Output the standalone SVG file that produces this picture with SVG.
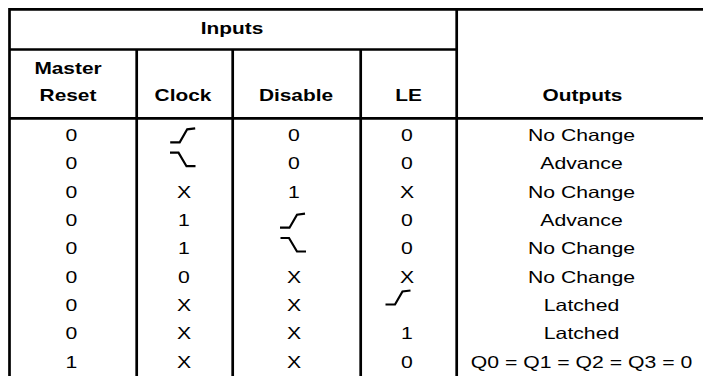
<svg xmlns="http://www.w3.org/2000/svg" width="703" height="376" viewBox="0 0 703 376">
<style>
.t{font-family:"Liberation Sans",Arial,Helvetica,sans-serif;font-size:16.3px;fill:#000;text-anchor:middle}
.b{font-weight:bold}
.ln{stroke:#000;stroke-width:2.7;fill:none}
.edge{stroke:#000;stroke-width:2.2;fill:none;stroke-linejoin:miter}
</style>
<defs>
<path id="rise" class="edge" d="M-12.5 7 H-3 L4.5 -6 L12.5 -7"/>
<path id="fall" class="edge" d="M-12.5 -7 H-4 L4 6.5 H13"/>
</defs>
<rect width="703" height="376" fill="#fff"/>
<g id="grid">
<path class="ln" d="M9.5 9.3 H703 M9.5 49.5 H456.7 M9.5 118.3 H703 M9.5 8 V376 M136.7 49.5 V376 M232.7 49.5 V376 M360.7 49.5 V376 M456.7 8 V376"/>
</g>
<g id="header">
<g transform="translate(232 0) scale(1.28 1)"><text class="t b" y="34.3">Inputs</text></g>
<g transform="translate(68 0) scale(1.28 1)"><text class="t b" y="74">Master</text><text class="t b" y="101.5">Reset</text></g>
<g transform="translate(183 0) scale(1.28 1)"><text class="t b" y="101.5">Clock</text></g>
<g transform="translate(296 0) scale(1.28 1)"><text class="t b" y="101.5">Disable</text></g>
<g transform="translate(408.5 0) scale(1.28 1)"><text class="t b" y="101.5">LE</text></g>
<g transform="translate(582.5 0) scale(1.28 1)"><text class="t b" y="101.5">Outputs</text></g>
</g>
<g id="col-master-reset" transform="translate(71.5 0) scale(1.3 1)">
<text class="t" y="141">0</text><text class="t" y="169.3">0</text><text class="t" y="197.7">0</text><text class="t" y="226">0</text><text class="t" y="254.3">0</text><text class="t" y="282.7">0</text><text class="t" y="311">0</text><text class="t" y="339.3">0</text><text class="t" y="367.7">1</text>
</g>
<g id="col-clock">
<use href="#rise" x="182.7" y="135.3"/>
<use href="#fall" x="182.5" y="159.7"/>
<g transform="translate(184 0) scale(1.3 1)">
<text class="t" y="197.7">X</text><text class="t" y="226">1</text><text class="t" y="254.3">1</text><text class="t" y="282.7">0</text><text class="t" y="311">X</text><text class="t" y="339.3">X</text><text class="t" y="367.7">X</text>
</g>
</g>
<g id="col-disable">
<use href="#rise" x="292.5" y="220.7"/>
<use href="#fall" x="293" y="245"/>
<g transform="translate(294 0) scale(1.3 1)">
<text class="t" y="141">0</text><text class="t" y="169.3">0</text><text class="t" y="197.7">1</text><text class="t" y="282.7">X</text><text class="t" y="311">X</text><text class="t" y="339.3">X</text><text class="t" y="367.7">X</text>
</g>
</g>
<g id="col-le">
<use href="#rise" x="398" y="297.5"/>
<g transform="translate(407 0) scale(1.3 1)">
<text class="t" y="141">0</text><text class="t" y="169.3">0</text><text class="t" y="197.7">X</text><text class="t" y="226">0</text><text class="t" y="254.3">0</text><text class="t" y="282.7">X</text><text class="t" y="339.3">1</text><text class="t" y="367.7">0</text>
</g>
</g>
<g id="col-outputs" transform="translate(581.5 0) scale(1.3 1)">
<text class="t" y="141">No Change</text><text class="t" y="169.3">Advance</text><text class="t" y="197.7">No Change</text><text class="t" y="226">Advance</text><text class="t" y="254.3">No Change</text><text class="t" y="282.7">No Change</text><text class="t" y="311">Latched</text><text class="t" y="339.3">Latched</text><text class="t" y="367.7">Q0 = Q1 = Q2 = Q3 = 0</text>
</g>
</svg>
